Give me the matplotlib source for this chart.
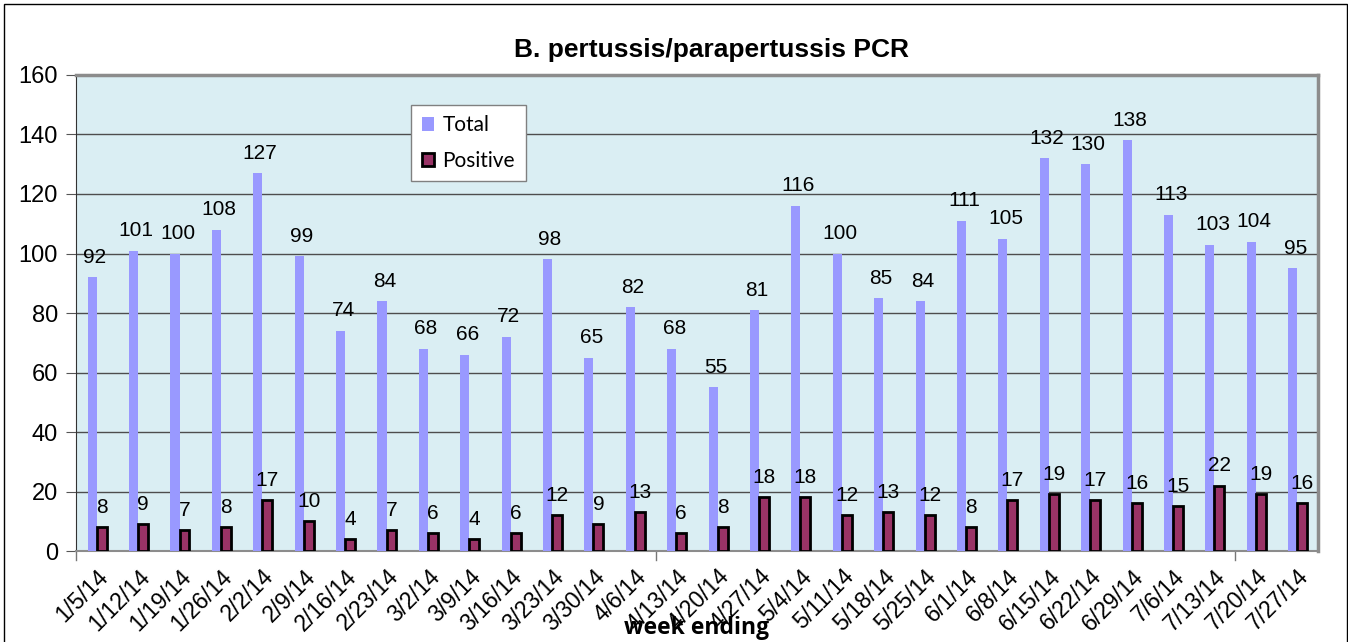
import numpy as np
import matplotlib.pyplot as plt
from matplotlib.patches import Rectangle

weeks = ["1/5/14", "1/12/14", "1/19/14", "1/26/14", "2/2/14", "2/9/14", "2/16/14",
         "2/23/14", "3/2/14", "3/9/14", "3/16/14", "3/23/14", "3/30/14", "4/6/14",
         "4/13/14", "4/20/14", "4/27/14", "5/4/14", "5/11/14", "5/18/14", "5/25/14",
         "6/1/14", "6/8/14", "6/15/14", "6/22/14", "6/29/14", "7/6/14", "7/13/14",
         "7/20/14", "7/27/14"]
total = [92, 101, 100, 108, 127, 99, 74, 84, 68, 66, 72, 98, 65, 82, 68, 55, 81,
         116, 100, 85, 84, 111, 105, 132, 130, 138, 113, 103, 104, 95]
positive = [8, 9, 7, 8, 17, 10, 4, 7, 6, 4, 6, 12, 9, 13, 6, 8, 18, 18, 12, 13, 12,
            8, 17, 19, 17, 16, 15, 22, 19, 16]

plt.rcParams["font.family"] = ["Liberation Sans", "DejaVu Sans"]

fig = plt.figure(figsize=(13.48, 6.42), dpi=100)
ax = fig.add_axes([0.0564, 0.1417, 0.9213, 0.7415])
ax.set_facecolor("#DAEEF3")

x = np.arange(len(weeks))
ax.bar(x - 0.11, total, width=0.22, color="#9999FF", label="Total", zorder=3)
ax.bar(x + 0.12, positive, width=0.24, color="#993366", edgecolor="black",
       linewidth=2, label="Positive", zorder=3)

for xi, v in zip(x, total):
    ax.text(xi - 0.05, v + 3.5, str(v), ha="center", va="bottom", fontsize=15)
for xi, v in zip(x, positive):
    ax.text(xi + 0.12, v + 3.5, str(v), ha="center", va="bottom", fontsize=15)

ax.set_xlim(-0.5, len(weeks) - 0.5)
ax.set_ylim(0, 160)
ax.set_yticks(range(0, 161, 20))
ax.yaxis.grid(True, color="#4d4d4d", linewidth=1, zorder=1)
ax.tick_params(axis="y", labelsize=17, length=7, color="#555555", direction="out", pad=6)

ax.set_xticks(x)
ax.set_xticklabels(weeks, rotation=45, ha="right", rotation_mode="anchor", fontsize=16.5)
ax.tick_params(axis="x", length=0, pad=10)
for b in [-0.5, 13.5, 27.5]:
    ax.plot([b, b], [0, -3], color="#777777", linewidth=1, clip_on=False)

for s in ["top", "right"]:
    ax.spines[s].set_color("#8c8c8c")
    ax.spines[s].set_linewidth(2.5)
ax.spines["left"].set_color("#333333")
ax.spines["bottom"].set_color("#8c8c8c")
ax.spines["bottom"].set_linewidth(1.5)

leg = ax.legend(loc="upper left", bbox_to_anchor=(0.27, 0.937), fancybox=False,
                edgecolor="#808080", framealpha=1, handlelength=0.6,
                handleheight=0.6, handletextpad=0.4, labelspacing=0.75,
                borderpad=0.5, borderaxespad=0,
                prop={"family": "Lato", "size": 15})
leg.get_frame().set_linewidth(1)

fig.text(0.528, 0.922, "B. pertussis/parapertussis PCR", ha="center", va="center",
         fontsize=19, fontweight="bold")
fig.text(0.517, 0.022, "week ending", ha="center", va="center", fontsize=16.5,
         fontweight="bold", family="Open Sans")

fig.patches.append(Rectangle((4 / 1348, -0.05), 1343 / 1348, 1 - 4 / 642 + 0.05,
                             transform=fig.transFigure, fill=False,
                             edgecolor="black", linewidth=1))

fig.savefig("out.png", dpi=100)
